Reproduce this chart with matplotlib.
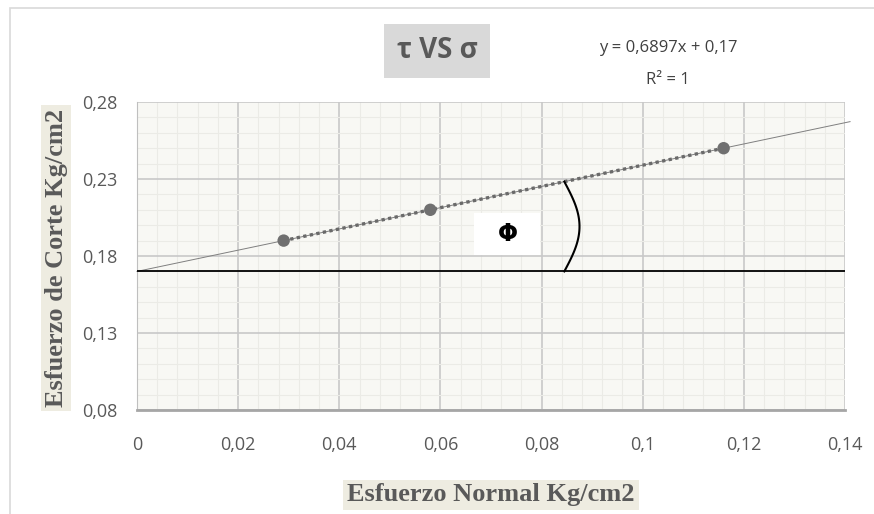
import numpy as np
import matplotlib
matplotlib.use("Agg")
import matplotlib.pyplot as plt
from matplotlib.patches import Rectangle

# ensayo de corte directo
sigma = [0.029, 0.058, 0.116]      # esfuerzo normal
tau = [0.19, 0.21, 0.25]           # esfuerzo de corte
pendiente = 0.6897
cohesion = 0.17
xticks = [0, 0.02, 0.04, 0.06, 0.08, 0.1, 0.12, 0.14]
xtick_lbl = ["0", "0,02", "0,04", "0,06", "0,08", "0,1", "0,12", "0,14"]
yticks = [0.08, 0.13, 0.18, 0.23, 0.28]
ytick_lbl = ["0,08", "0,13", "0,18", "0,23", "0,28"]

gris = "#595959"

fig = plt.figure(figsize=(8.74, 5.14), dpi=100)
fig.patch.set_facecolor("white")
# marco del grafico
fig.add_artist(Rectangle((10/874, -0.01), 1.0, 1 - 8/514 + 0.01, transform=fig.transFigure,
                         fill=False, edgecolor="#d9d9d9", lw=1.2))

ax = fig.add_axes([137/874, 1 - 410/514, 708/874, 308/514])
ax.set_facecolor("#f8f8f4")
ax.set_xlim(0, 0.14)
ax.set_ylim(0.08, 0.28)
ax.set_xticks(xticks)
ax.set_xticklabels(xtick_lbl)
ax.set_yticks(yticks)
ax.set_yticklabels(ytick_lbl)
ax.set_xticks(np.arange(0, 0.1401, 0.004), minor=True)
ax.set_yticks(np.arange(0.08, 0.2801, 0.01), minor=True)
ax.grid(which="major", color="#c8c8c8", lw=1.2)
ax.grid(which="minor", color="#ebebe6", lw=0.8)
ax.tick_params(which="both", length=0, colors=gris, labelsize=13)
ax.tick_params(axis="y", pad=14)
ax.tick_params(axis="x", pad=19)
for lbl in ax.get_xticklabels() + ax.get_yticklabels():
    lbl.set_family("Open Sans")
for s in ["top", "right"]:
    ax.spines[s].set_visible(False)
ax.spines["left"].set_color("#bfbfbf")
ax.spines["bottom"].set_color("#a6a6a6")
ax.spines["bottom"].set_linewidth(2)
ax.set_axisbelow(True)

# linea de tendencia
xt = np.array([0, 0.141])
ax.plot(xt, pendiente * xt + cohesion, color="#7f7f7f", lw=0.7, clip_on=False, zorder=2)
# horizontal en la cohesion
ax.axhline(cohesion, color="black", lw=1.3, zorder=3)
# serie medida
ax.plot(sigma, tau, ls=(0, (1, 1)), color="#6a6a6a", lw=2.4, zorder=4)
ax.scatter(sigma, tau, s=80, color="#707070", edgecolors="none", zorder=5)

# arco del angulo de friccion
x0 = 0.0845
y_top = pendiente * x0 + cohesion
yy = np.linspace(cohesion, y_top, 60)
t = (yy - cohesion) / (y_top - cohesion)
xx = x0 + 0.003 * np.sin(np.pi * t)
ax.plot(xx, yy, color="black", lw=1.5, zorder=4)

# recuadro del simbolo phi
ax.add_patch(Rectangle((0.0667, 0.1807), 0.0129, 0.0273, facecolor="white",
                       edgecolor="none", zorder=5))
ax.text(0.0733, 0.1943, "Φ", fontsize=17, fontweight="bold", ha="center", va="center",
        family="DejaVu Sans", zorder=6)

# titulo
fig.text(437/874, 1 - 51/514, "τ VS σ", fontsize=20, fontweight="bold", color=gris,
         ha="center", va="center", family="Open Sans",
         bbox=dict(boxstyle="square,pad=0.45", facecolor="#d9d9d9", edgecolor="none"))
fig.text(668/874, 1 - 48/514, "y = 0,6897x + 0,17", fontsize=12, color="#404040",
         ha="center", va="center", family="Open Sans")
fig.text(668/874, 1 - 80/514, "R² = 1", fontsize=12, color="#404040",
         ha="center", va="center", family="Open Sans")

# etiquetas de ejes
fig.text(56/874, 1 - 258/514, "Esfuerzo de Corte Kg/cm2", rotation=90, fontsize=19,
         fontweight="bold", color=gris, ha="center", va="center", family="Liberation Serif",
         bbox=dict(boxstyle="square,pad=0.15", facecolor="#eeece1", edgecolor="none"))
fig.text(491/874, 1 - 495/514, "Esfuerzo Normal Kg/cm2", fontsize=19,
         fontweight="bold", color=gris, ha="center", va="center", family="Liberation Serif",
         bbox=dict(boxstyle="square,pad=0.15", facecolor="#eeece1", edgecolor="none"))

fig.savefig("out.png", dpi=100)
